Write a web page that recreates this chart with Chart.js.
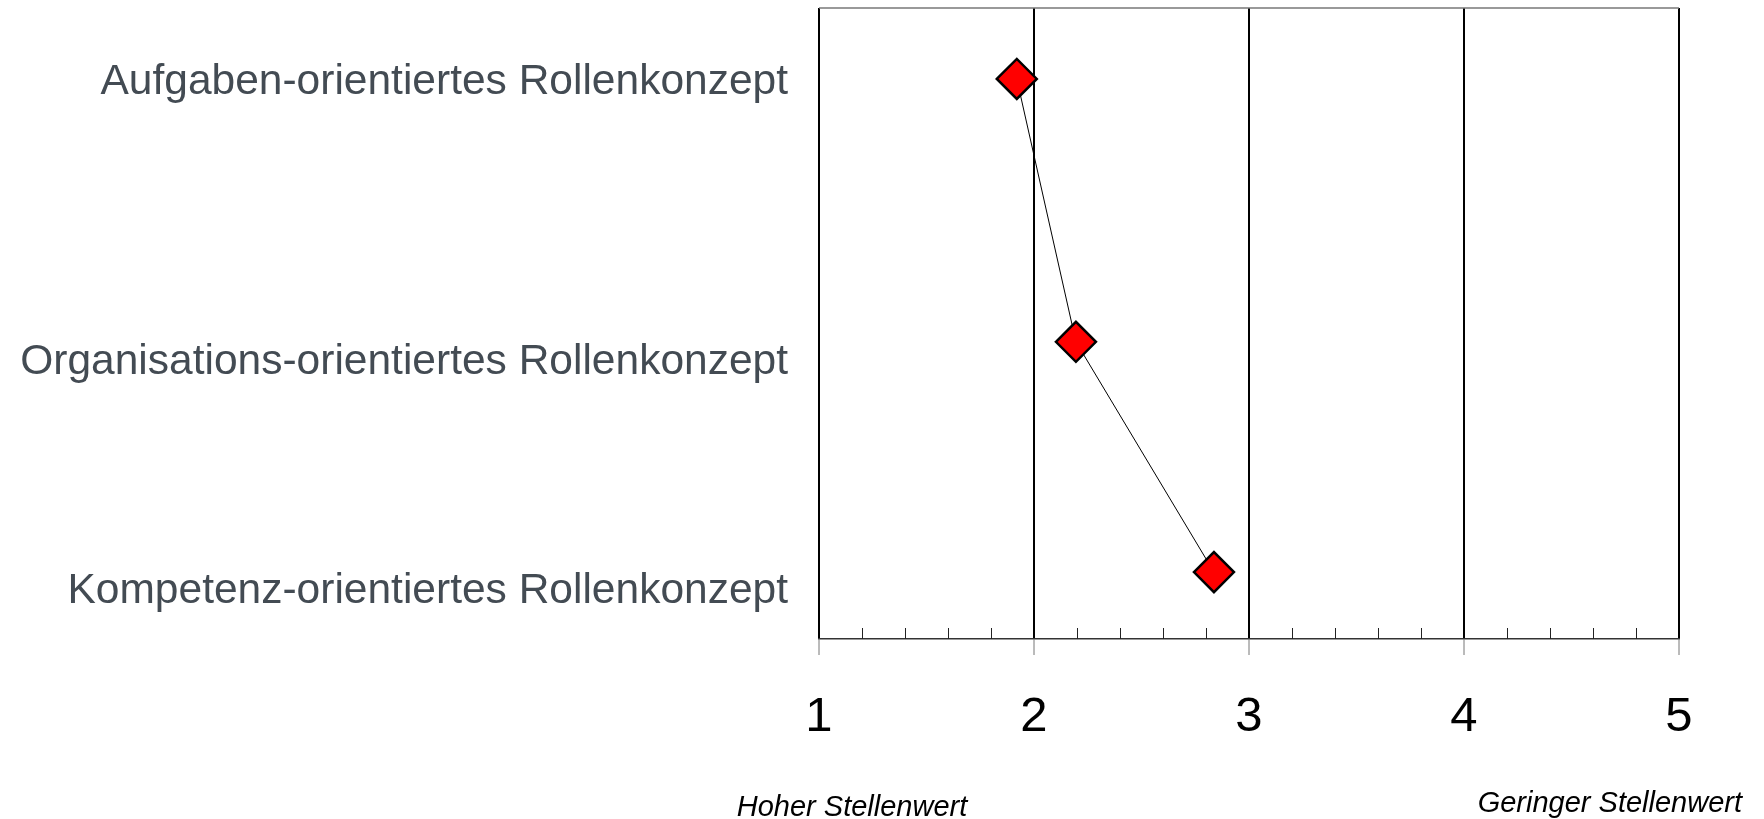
<!DOCTYPE html>
<html>
<head>
<meta charset="utf-8">
<script src="https://cdn.jsdelivr.net/npm/chart.js@4/dist/chart.umd.min.js"></script>
<style>
  html, body { margin: 0; padding: 0; background: #fff; }
  #wrap { width: 1764px; height: 819px; position: relative; }
</style>
</head>
<body>
<div id="wrap"><canvas id="rollen"></canvas></div>
<script>
// Categories (top to bottom) and where their labels sit on the vertical scale
let categories = [
  'Aufgaben-orientiertes Rollenkonzept',
  'Organisations-orientiertes Rollenkonzept',
  'Kompetenz-orientiertes Rollenkonzept',
]
let categoryPos = [11.8, 56.2, 92.5]

// Mean rating per concept (1 = hoher, 5 = geringer Stellenwert)
let ratings = [1.92, 2.195, 2.837]
let pointPos = [11.25, 52.9, 89.4]

// Scale ticks
let xTicks = [1, 2, 3, 4, 5]
let minorStep = 0.2

// End labels under the axis
let lowLabel = 'Hoher Stellenwert'
let highLabel = 'Geringer Stellenwert'

let points = ratings.map((r, i) => ({ x: r, y: pointPos[i] }))

// Small ticks pointing up from the axis line, plus top frame line
let framePlugin = {
  id: 'frame',
  beforeDatasetsDraw(chart) {
    let ctx = chart.ctx
    let area = chart.chartArea
    let xs = chart.scales.x
    ctx.save()
    ctx.strokeStyle = '#222'
    ctx.lineWidth = 1
    for (let v = xTicks[0]; v < xTicks[xTicks.length - 1]; v += minorStep) {
      if (Math.abs(v - Math.round(v)) < 1e-6) continue
      let px = Math.round(xs.getPixelForValue(v)) + 0.5
      ctx.beginPath()
      ctx.moveTo(px, area.bottom)
      ctx.lineTo(px, area.bottom - 11)
      ctx.stroke()
    }
    ctx.strokeStyle = '#777'
    ctx.lineWidth = 1.5
    ctx.beginPath()
    ctx.moveTo(area.left, area.top)
    ctx.lineTo(area.right, area.top)
    ctx.stroke()
    ctx.restore()
  },
  afterDraw(chart) {
    let ctx = chart.ctx
    ctx.save()
    ctx.fillStyle = '#000'
    ctx.font = 'italic 29px "Liberation Sans", Arial, sans-serif'
    ctx.textBaseline = 'alphabetic'
    ctx.textAlign = 'center'
    ctx.fillText(lowLabel, 852, 816)
    ctx.textAlign = 'right'
    ctx.fillText(highLabel, 1742, 812)
    ctx.restore()
  }
}

let chart = new Chart(document.getElementById('rollen'), {
  type: 'scatter',
  data: {
    datasets: [{
      data: points,
      showLine: true,
      borderColor: '#000',
      borderWidth: 1,
      pointStyle: 'rectRot',
      pointRadius: 20,
      pointHoverRadius: 20,
      pointBackgroundColor: '#ff0000',
      pointBorderColor: '#000',
      pointBorderWidth: 2.5,
    }]
  },
  options: {
    responsive: true,
    maintainAspectRatio: false,
    animation: false,
    layout: { autoPadding: false, padding: { top: 8, right: 85, left: 0, bottom: 0 } },
    plugins: {
      legend: { display: false },
      tooltip: { enabled: false },
    },
    scales: {
      x: {
        type: 'linear',
        position: 'bottom',
        min: xTicks[0],
        max: xTicks[xTicks.length - 1],
        afterBuildTicks: (scale) => {
          scale.ticks = xTicks.map((v) => ({ value: v }))
        },
        afterFit: (scale) => {
          scale.height = 180
          scale.paddingLeft = 0
          scale.paddingRight = 0
        },
        grid: {
          color: '#000',
          lineWidth: 2,
          drawTicks: true,
          tickLength: 16,
          tickColor: '#777',
          tickWidth: 1,
        },
        border: { display: true, color: '#333', width: 1.5 },
        ticks: {
          color: '#000',
          padding: 33,
          font: { family: '"Liberation Sans", Arial, sans-serif', size: 49 },
        },
      },
      y: {
        type: 'linear',
        reverse: true,
        min: 0,
        max: 100,
        afterBuildTicks: (scale) => {
          scale.ticks = categoryPos.map((v) => ({ value: v }))
        },
        afterFit: (scale) => {
          scale.width = 819
          scale.paddingTop = 0
          scale.paddingBottom = 0
        },
        grid: { display: false, drawTicks: false },
        border: { display: false },
        ticks: {
          color: '#434b53',
          padding: 31,
          autoSkip: false,
          font: { family: '"Liberation Sans", Arial, sans-serif', size: 42.5 },
          callback: (v) => {
            let i = categoryPos.indexOf(v)
            return i >= 0 ? categories[i] : ''
          },
        },
      },
    },
  },
  plugins: [framePlugin],
})
</script>
</body>
</html>
